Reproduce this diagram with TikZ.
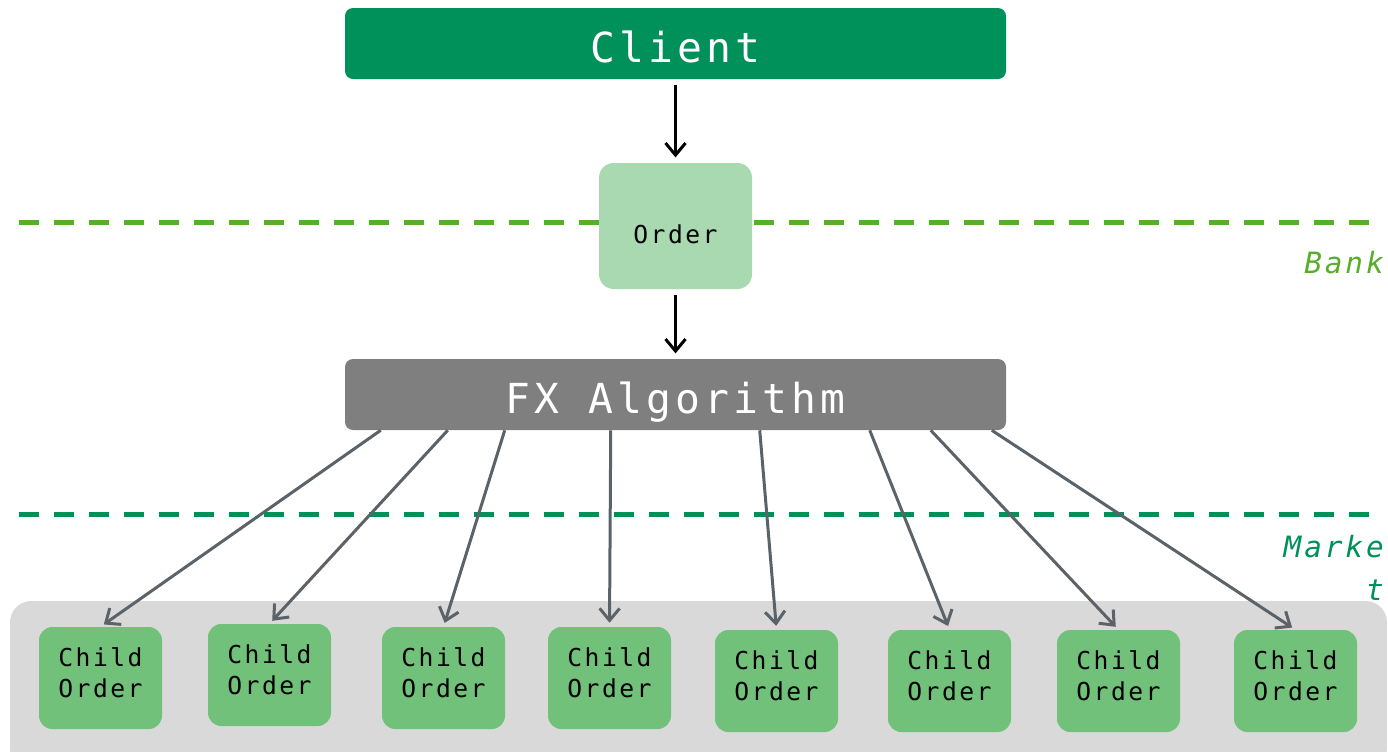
\documentclass[tikz,border=0pt]{standalone}
\usepackage{fontspec}
\usetikzlibrary{arrows.meta}
\newfontfamily\boxfont[LetterSpace=10]{DejaVu Sans Mono}
\definecolor{clientgreen}{RGB}{0,145,90}
\definecolor{ordergreen}{RGB}{169,217,176}
\definecolor{childgreen}{RGB}{113,193,122}
\definecolor{algogray}{RGB}{127,127,127}
\definecolor{poolgray}{RGB}{217,217,217}
\definecolor{linkgray}{RGB}{91,99,105}
\definecolor{bankgreen}{RGB}{87,174,43}
\definecolor{marketgreen}{RGB}{0,144,88}
\tikzset{
  widebox/.style={rounded corners=6pt,minimum width=495.75pt,minimum height=53.25pt,
    inner sep=0pt,text=white,text height=28.5pt,text depth=0pt,
    font=\boxfont\fontsize{31}{31}\selectfont},
  orderbox/.style={rounded corners=11pt,fill=ordergreen,minimum width=114.75pt,
    minimum height=94.5pt,inner sep=0pt,text height=25.5pt,text depth=0pt,
    font=\boxfont\fontsize{18.5}{23}\selectfont},
  childbox/.style={rounded corners=10pt,fill=childgreen,minimum width=92.25pt,
    minimum height=76.5pt,inner sep=0pt,align=center,text depth=7.5pt,
    font=\boxfont\fontsize{18.5}{23.25}\selectfont},
  layerline/.style={line width=3.75pt,dash pattern=on 15pt off 11.25pt},
  layertext/.style={inner sep=0pt,font=\boxfont\itshape\fontsize{22}{32}\selectfont},
  flow/.style={line width=2.25pt,-{Straight Barb[length=9pt,width=15pt]},shorten <=4pt,shorten >=4pt},
  split/.style={flow,linkgray,shorten <=0pt,shorten >=3pt}
}
\begin{document}
\begin{tikzpicture}[x=0.75pt,y=-0.75pt]
	\useasboundingbox (0,0) rectangle (1388,751);
	% layers
	\draw[layerline,bankgreen](19,222)coordinate(b1)--(1375,222)coordinate(b2);
	\draw[layerline,marketgreen](19,514)coordinate(m1)--(1375,514)coordinate(m2);
	\node[layertext,bankgreen,anchor=base east](bank)at(1384,273){Bank};
	\node[layertext,marketgreen,align=right,anchor=base east](market)at(1384,600){Marke\\t};
	\fill[poolgray,rounded corners=16pt](10,601)rectangle(1387,770);
	% boxes
	\node[widebox,fill=clientgreen](client)at(675.5,43.5){Client};
	\node[orderbox](order)at(675.5,226){Order};
	\node[widebox,fill=algogray](fx)at(675.5,394.5){FX Algorithm};
	\node[childbox](c1)at(100.5,678){Child\\Order};
	\node[childbox](c2)at(269.5,675){Child\\Order};
	\node[childbox](c3)at(443.5,678){Child\\Order};
	\node[childbox](c4)at(609.5,678){Child\\Order};
	\node[childbox](c5)at(776.5,681){Child\\Order};
	\node[childbox](c6)at(949.5,681){Child\\Order};
	\node[childbox](c7)at(1118.5,681){Child\\Order};
	\node[childbox](c8)at(1295.5,681){Child\\Order};
	% links
	\draw[flow](client)--(order);
	\draw[flow](order)--(fx);
	\draw[split]([xshift=27pt]fx.south west)--(c1.north);
	\draw[split]([xshift=77.25pt]fx.south west)--(c2.north);
	\draw[split]([xshift=120pt]fx.south west)--(c3.north);
	\draw[split]([xshift=199.5pt]fx.south west)--(c4.north);
	\draw[split]([xshift=311.25pt]fx.south west)--(c5.north);
	\draw[split]([xshift=393.75pt]fx.south west)--(c6.north);
	\draw[split]([xshift=439.5pt]fx.south west)--(c7.north);
	\draw[split]([xshift=485.25pt]fx.south west)--(c8.north);
\end{tikzpicture}
\end{document}
